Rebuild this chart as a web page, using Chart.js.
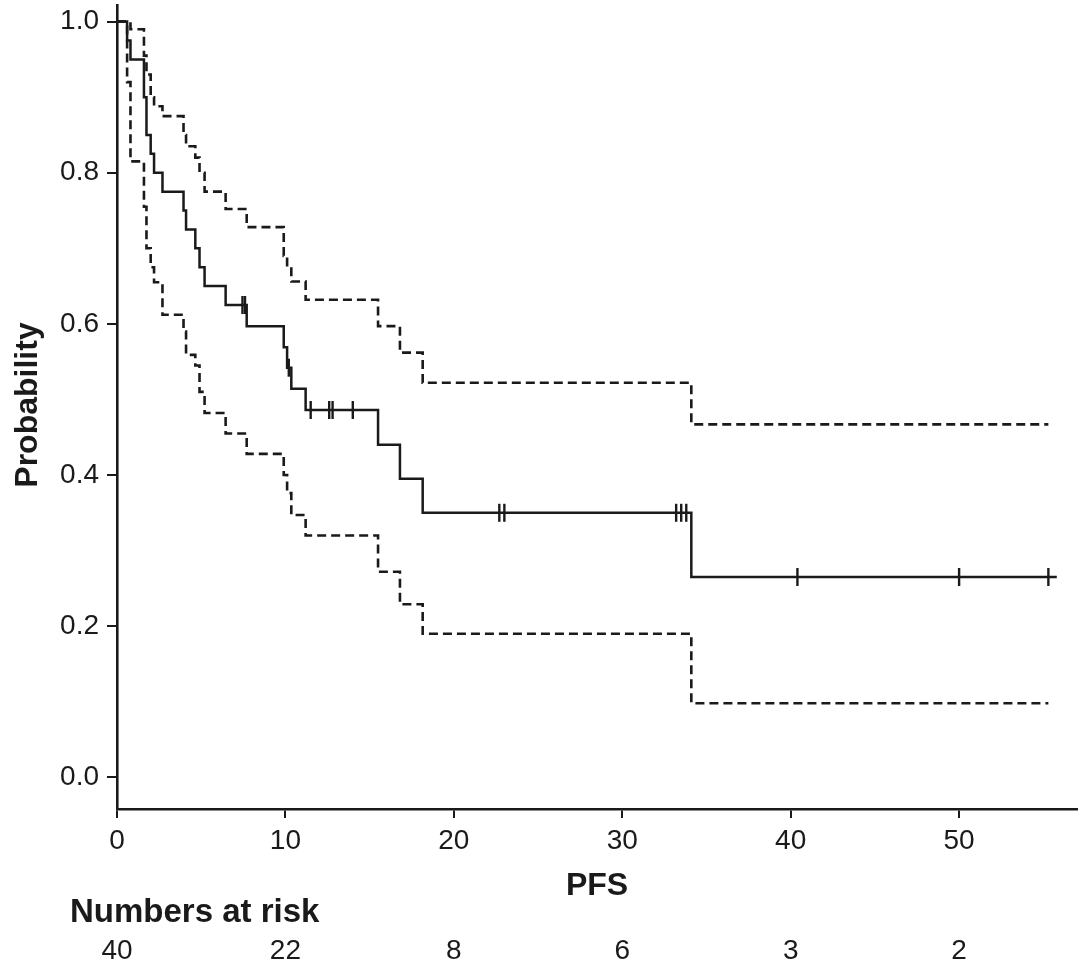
<!DOCTYPE html>
<html>
<head>
<meta charset="utf-8">
<script src="https://cdn.jsdelivr.net/npm/chart.js@4.4.0/dist/chart.umd.min.js"></script>
<style>
  html, body { margin: 0; padding: 0; background: #fff; }
  #wrap { width: 1087px; height: 970px; }
</style>
</head>
<body>
<div id="wrap"><canvas id="km"></canvas></div>
<script>
// Kaplan-Meier steps: time of each drop and probability right after it
const kmTimes = [0, 0.6, 0.8, 1.6, 1.75, 2.0, 2.2, 2.7, 3.95, 4.1, 4.65, 4.9, 5.2, 6.45, 7.7, 9.9, 10.1, 10.35, 11.2, 15.5, 16.8, 18.15, 34.1, 55.8];
const kmSurv  = [1.0, 0.975, 0.95, 0.90, 0.85, 0.825, 0.80, 0.775, 0.75, 0.725, 0.70, 0.675, 0.65, 0.625, 0.597, 0.569, 0.542, 0.514, 0.486, 0.44, 0.395, 0.35, 0.265, 0.265];
// confidence band, same drop times (ends at last censor)
const ciTimes = [0, 0.6, 0.8, 1.6, 1.75, 2.0, 2.2, 2.7, 3.95, 4.1, 4.65, 4.9, 5.2, 6.45, 7.7, 9.9, 10.1, 10.35, 11.2, 15.5, 16.8, 18.15, 34.1, 55.3];
const upperCI = [1.0, 1.0, 0.99, 0.955, 0.93, 0.90, 0.888, 0.875, 0.85, 0.835, 0.82, 0.80, 0.775, 0.752, 0.728, 0.69, 0.675, 0.656, 0.632, 0.597, 0.562, 0.522, 0.467, 0.467];
const lowerCI = [1.0, 0.92, 0.815, 0.755, 0.70, 0.675, 0.655, 0.612, 0.59, 0.559, 0.545, 0.51, 0.482, 0.455, 0.428, 0.40, 0.376, 0.347, 0.32, 0.272, 0.229, 0.19, 0.098, 0.098];
// censored observations
const censorTimes = [7.45, 7.6, 10.2, 11.5, 12.6, 12.8, 14.0, 22.7, 23.0, 33.2, 33.5, 33.8, 40.4, 50.0, 55.3];
// numbers at risk table
const riskTimes = [0, 10, 20, 30, 40, 50];
const atRisk = [40, 22, 8, 6, 3, 2];
const xTicks = [0, 10, 20, 30, 40, 50];
const yTicks = [0, 0.2, 0.4, 0.6, 0.8, 1.0];

const FONT = '"Liberation Sans", Arial, sans-serif';
const INK = '#1a1a1a';

function toPoints(xs, ys) {
    return xs.map((t, i) => ({x: t, y: ys[i]}));
}

function kmAt(t) {
    let p = kmSurv[0];
    for (let i = 0; i < kmTimes.length; i++) {
        if (kmTimes[i] <= t) p = kmSurv[i];
    }
    return p;
}

const textPlugin = {
    id: 'kmText',
    afterDraw(chart) {
        const ctx = chart.ctx;
        const area = chart.chartArea;
        const xs = chart.scales.x;
        ctx.save();
        ctx.fillStyle = INK;
        ctx.textBaseline = 'middle';

        ctx.font = 'bold 32px ' + FONT;
        ctx.textAlign = 'center';
        ctx.fillText('PFS', (area.left + area.right) / 2, 886);

        ctx.textAlign = 'left';
        ctx.font = 'bold 33px ' + FONT;
        ctx.fillText('Numbers at risk', 70, 913);

        ctx.font = '28px ' + FONT;
        ctx.textAlign = 'center';
        riskTimes.forEach(function(t, i) {
            ctx.fillText(String(atRisk[i]), xs.getPixelForValue(t), 951);
        });

        ctx.translate(28, 405);
        ctx.rotate(-Math.PI / 2);
        ctx.font = 'bold 32px ' + FONT;
        ctx.fillText('Probability', 0, 0);
        ctx.restore();
    }
};

const ctx = document.getElementById('km').getContext('2d');
new Chart(ctx, {
    type: 'line',
    data: {
        datasets: [
            {
                label: 'Upper CI',
                data: toPoints(ciTimes, upperCI),
                borderColor: INK,
                borderWidth: 2.6,
                borderDash: [9, 5],
                stepped: 'before',
                pointRadius: 0
            },
            {
                label: 'Lower CI',
                data: toPoints(ciTimes, lowerCI),
                borderColor: INK,
                borderWidth: 2.6,
                borderDash: [9, 5],
                stepped: 'before',
                pointRadius: 0
            },
            {
                label: 'PFS',
                data: toPoints(kmTimes, kmSurv),
                borderColor: INK,
                borderWidth: 2.5,
                stepped: 'before',
                pointRadius: 0
            },
            {
                label: 'Censored',
                data: censorTimes.map(t => ({x: t, y: kmAt(t)})),
                showLine: false,
                pointStyle: 'line',
                rotation: 90,
                pointRadius: 9,
                pointBorderWidth: 2.4,
                borderColor: INK
            }
        ]
    },
    options: {
        responsive: true,
        maintainAspectRatio: false,
        animation: false,
        layout: { autoPadding: false, padding: { top: 5, right: 10, left: 0, bottom: 0 } },
        plugins: {
            legend: { display: false },
            tooltip: { enabled: false }
        },
        scales: {
            x: {
                type: 'linear',
                min: 0,
                max: 57,
                afterBuildTicks: s => { s.ticks = xTicks.map(v => ({value: v})); },
                afterFit: s => { s.height = 161; },
                ticks: {
                    font: { family: FONT, size: 28 },
                    color: INK,
                    padding: 6,
                    maxRotation: 0
                },
                grid: { drawOnChartArea: false, drawTicks: true, tickLength: 9, color: INK, lineWidth: 2 },
                border: { display: true, color: INK, width: 2.6 }
            },
            y: {
                type: 'linear',
                min: -0.042,
                max: 1.022,
                afterBuildTicks: s => { s.ticks = yTicks.map(v => ({value: v})); },
                afterFit: s => { s.width = 117; s.paddingTop = 0; s.paddingBottom = 0; },
                ticks: {
                    font: { family: FONT, size: 28 },
                    color: INK,
                    padding: 8,
                    callback: v => v.toFixed(1)
                },
                grid: { drawOnChartArea: false, drawTicks: true, tickLength: 10, color: INK, lineWidth: 2 },
                border: { display: true, color: INK, width: 2.6 }
            }
        }
    },
    plugins: [textPlugin]
});
</script>
</body>
</html>
